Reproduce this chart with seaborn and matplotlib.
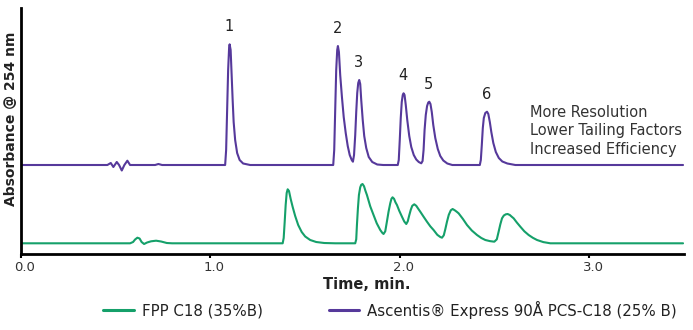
import numpy as np
import pandas as pd
import matplotlib
matplotlib.use("Agg")
import matplotlib.pyplot as plt
from matplotlib.transforms import ScaledTranslation
import seaborn as sns

# ---------------- data ----------------
# Ascentis Express 90A PCS-C18 trace: time (min), absorbance (a.u., baseline = 0)
purple_time = [0.0,
               0.4559, 0.4739, 0.4876, 0.5055, 0.5177, 0.5320, 0.5457, 0.5615, 0.5758,
               0.7079, 0.7253, 0.7449,
               1.0777, 1.0829, 1.0882, 1.0935, 1.0988, 1.1014, 1.1067, 1.1120, 1.1173, 1.1226,
               1.1305, 1.1410, 1.1542, 1.1727, 1.2097,
               1.6482, 1.6535, 1.6587, 1.6640, 1.6693, 1.6730, 1.6783, 1.6851, 1.6942, 1.7036,
               1.7142, 1.7248, 1.7353, 1.7459, 1.7523,
               1.7581, 1.7644, 1.7697, 1.7750, 1.7802, 1.7855, 1.7908, 1.7961, 1.8040, 1.8119,
               1.8225, 1.8357, 1.8542, 1.8806, 1.9123,
               1.9889, 1.9942, 1.9995, 2.0047, 2.0100, 2.0153, 2.0195, 2.0248, 2.0312, 2.0391,
               2.0496, 2.0602, 2.0734, 2.0866, 2.0998, 2.1130,
               2.1199, 2.1252, 2.1305, 2.1368, 2.1437, 2.1500, 2.1553, 2.1616, 2.1685, 2.1764,
               2.1870, 2.2002, 2.2134, 2.2293, 2.2504, 2.2768,
               2.4221, 2.4274, 2.4326, 2.4379, 2.4432, 2.4511, 2.4601, 2.4670, 2.4749, 2.4828,
               2.4934, 2.5066, 2.5224, 2.5409, 2.5673, 2.6096,
               3.495]
purple_abs = [0,
              0, 2, -2, 3, 0, -5.5, 0, 4.3, 0,
              0, 1, 0,
              0, 15, 55, 95, 118, 120.7, 115, 90, 65, 43,
              25, 12, 5, 1.5, 0,
              0, 15, 55, 95, 115, 119, 113, 90, 68, 48,
              32, 19, 10, 5, 3.3,
              10, 30, 53, 72, 82, 85, 81, 65, 45, 29,
              17, 8, 3, 0.5, 0,
              0, 5, 25, 47, 63, 70, 71.7, 70, 60, 45,
              29, 18, 10, 5.5, 3, 1.7,
              4, 15, 35, 50, 59, 62.5, 63.3, 61, 53, 40,
              27, 16, 9, 4.5, 1.5, 0,
              0, 5, 20, 37, 47, 52, 53.3, 51, 43, 33,
              22, 13, 7, 3.5, 1.5, 0,
              0]

# FPP C18 trace: time (min), absorbance (a.u., baseline = 0)
green_time = [0.0,
              0.5758, 0.5917, 0.6022, 0.6144, 0.6260, 0.6366, 0.6498, 0.6656, 0.6867, 0.7132,
              0.7396, 0.7697, 0.7977,
              1.3814, 1.3867, 1.3920, 1.3972, 1.4025, 1.4078, 1.4147, 1.4237, 1.4342, 1.4474,
              1.4633, 1.4818, 1.5003, 1.5267, 1.5584, 1.6006, 1.6587,
              1.7644, 1.7697, 1.7734, 1.7786, 1.7839, 1.7908, 1.7961, 1.8030, 1.8109, 1.8183,
              1.8262, 1.8436, 1.8611, 1.8780, 1.8965, 1.9071, 1.9139,
              1.9229, 1.9319, 1.9403, 1.9493, 1.9556, 1.9614, 1.9694, 1.9768, 1.9847, 1.9968,
              2.0111, 2.0232, 2.0338,
              2.0417, 2.0496, 2.0576, 2.0655, 2.0761, 2.0866, 2.0972, 2.1078, 2.1252, 2.1431,
              2.1606, 2.1780, 2.1976, 2.2134, 2.2224,
              2.2319, 2.2398, 2.2488, 2.2583, 2.2689, 2.2784, 2.2900, 2.3006, 2.3101, 2.3323,
              2.3545, 2.3798, 2.4073, 2.4300, 2.4511, 2.4749, 2.4987,
              2.5119, 2.5214, 2.5304, 2.5393, 2.5489, 2.5594, 2.5690, 2.5805, 2.5911, 2.6006,
              2.6175, 2.6360, 2.6572, 2.6799, 2.7021, 2.7242, 2.7575, 2.7945,
              3.495]
green_abs = [0,
             0, 1.3, 3.8, 5.6, 4.8, 1.3, -0.7, 0.8, 2, 2.6,
             1.8, 0.3, 0,
             0, 5.3, 21.3, 38.3, 50.3, 54, 52.3, 44.3, 36.3, 27.3,
             18.3, 11.3, 6.8, 3.3, 1.3, 0.3, 0,
             0, 4, 18.3, 35, 48.3, 56, 58.5, 59.3, 57, 52.5,
             48.3, 37, 28.3, 20, 13.3, 10.5, 9.3,
             12, 22, 31.6, 40, 44.5, 46, 44.5, 41, 38.3, 32.5,
             26.6, 21.8, 19.3,
             22, 28, 33.5, 37.5, 39, 37.5, 34.5, 31.6, 26.6, 21.6,
             17, 13.3, 8.5, 6.3, 5.6,
             8, 14, 21.6, 28.5, 33, 34.3, 33, 31.5, 30, 24.5,
             18.3, 12.8, 8.3, 5.3, 3.3, 2.2, 1.6,
             4, 11.6, 19, 25, 27.8, 29, 29.3, 28.3, 26.5, 25,
             20.8, 16.6, 12, 8.3, 5.5, 3.3, 1.2, 0,
             0]

series_names = ["FPP C18 (35%B)", "Ascentis\u00ae Express 90\u00c5 PCS-C18 (25% B)"]
peak_labels = ["1", "2", "3", "4", "5", "6"]
peak_times = [1.1014, 1.6730, 1.7855, 2.0195, 2.1553, 2.4601]
x_ticks = [0.0, 1.0, 2.0, 3.0]
x_tick_labels = ["0.0", "1.0", "2.0", "3.0"]
note_lines = ["More Resolution", "Lower Tailing Factors", "Increased Efficiency"]

# ---------------- style ----------------
GREEN = "#15a06a"
PURPLE = "#56399b"
PURPLE_OFFSET = 78.3  # vertical stacking offset of the upper trace

sns.set_style("white")
plt.rcParams["font.family"] = ["DejaVu Sans"]

df = pd.concat([
    pd.DataFrame({"time": green_time, "signal": green_abs, "trace": series_names[0]}),
    pd.DataFrame({"time": purple_time,
                  "signal": np.asarray(purple_abs) + PURPLE_OFFSET,
                  "trace": series_names[1]}),
], ignore_index=True)

fig = plt.figure(figsize=(6.93, 3.30), dpi=100)
ax = fig.add_axes([21 / 693, 76 / 330, 663 / 693, 246 / 330])

sns.lineplot(data=df, x="time", y="signal", hue="trace", hue_order=series_names,
             palette={series_names[0]: GREEN, series_names[1]: PURPLE},
             estimator=None, sort=False, linewidth=1.5, ax=ax)

ax.set_xlim(0, 3.5)
ax.set_ylim(-10.7, 235.3)
ax.set_xticks(x_ticks)
ax.set_xticklabels(x_tick_labels)
ax.set_yticks([])
ax.set_xlabel("")
ax.set_ylabel("")
for s in ["top", "right"]:
    ax.spines[s].set_visible(False)
for s in ["left", "bottom"]:
    ax.spines[s].set_linewidth(2)
    ax.spines[s].set_color("black")
ax.tick_params(axis="x", direction="out", length=2.6, width=1.5, color="black",
               labelsize=9.5, labelcolor="#333333", pad=2.5, bottom=True)
shift = ScaledTranslation(4 / 100, 0, fig.dpi_scale_trans)
for lab in ax.get_xticklabels():
    lab.set_transform(lab.get_transform() + shift)

# peak numbers
apex = np.interp(peak_times, purple_time, purple_abs) + PURPLE_OFFSET
for lab, t, h in zip(peak_labels, peak_times, apex):
    ax.annotate(lab, xy=(t, h), xytext=(-0.5, 12.5), textcoords="offset points",
                ha="center", va="center", fontsize=10.5, color="#222222")

# note text
for i, line in enumerate(note_lines):
    ax.text(2.689, 137.3 - 10.7 - i * 18.7, line, ha="left", va="baseline",
            fontsize=10.5, color="#333333")

# axis titles
fig.text(366.7 / 693, (330 - 284.3) / 330, "Time, min.", ha="center", va="center",
         fontsize=10.5, fontweight="bold", color="#222222")
fig.text(11 / 693, (330 - 118.5) / 330, "Absorbance @ 254 nm", rotation=90,
         ha="center", va="center", fontsize=10, fontweight="bold", color="#222222")

# legend
handles, labels = ax.get_legend_handles_labels()
if ax.get_legend() is not None:
    ax.get_legend().remove()
leg = fig.legend(handles, labels, loc="center left", bbox_to_anchor=(90 / 693, 20.3 / 330),
                 ncol=2, frameon=False, fontsize=10.8, handlelength=2.0, handletextpad=0.55,
                 columnspacing=4.4, borderpad=0.4)
for h in leg.get_lines():
    h.set_linewidth(2.2)
for t in leg.get_texts():
    t.set_color("#222222")

fig.savefig("out.png", dpi=100)
